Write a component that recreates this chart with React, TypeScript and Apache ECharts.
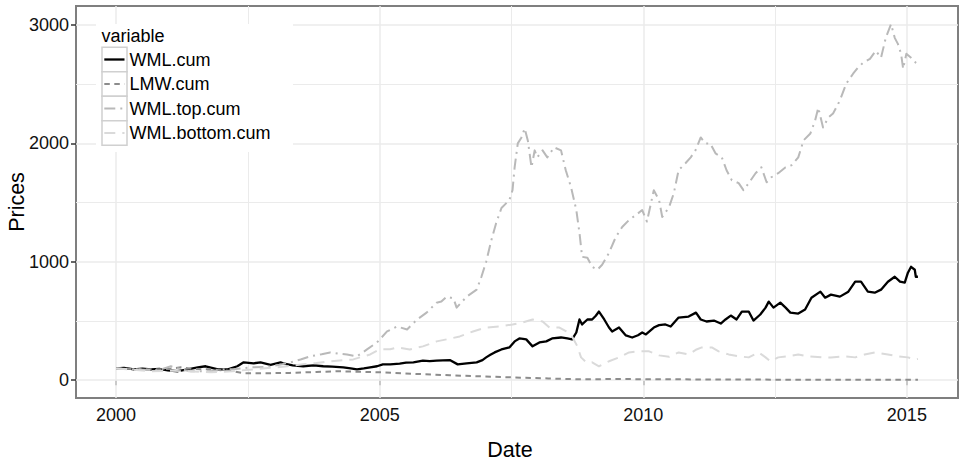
import React, { useEffect, useRef } from "react";
import * as echarts from "echarts";

const FONT = "'Liberation Sans', Arial, Helvetica, sans-serif";

// x ticks / y ticks
const xTickYears = [2000, 2005, 2010, 2015];
const xMinorYears = [2002.5, 2007.5, 2012.5];
const yTickValues = [0, 1000, 2000, 3000];
const yMinorValues = [500, 1500, 2500];

const seriesNames = ["WML.cum", "LMW.cum", "WML.top.cum", "WML.bottom.cum"];

// [decimal year, price]
const wmlCum: [number, number][] = [
  [2000.0, 100], [2000.15, 104], [2000.34, 92], [2000.5, 98], [2000.66, 92], [2000.82, 95], [2000.98, 84],
  [2001.17, 76], [2001.36, 92], [2001.55, 109], [2001.7, 118], [2001.93, 92], [2002.12, 92], [2002.3, 118],
  [2002.42, 151], [2002.61, 143], [2002.74, 151], [2002.93, 130], [2003.12, 151], [2003.17, 143],
  [2003.35, 125], [2003.55, 118], [2003.75, 125], [2003.93, 118], [2004.1, 115], [2004.31, 109],
  [2004.45, 100], [2004.57, 92], [2004.7, 100], [2004.82, 109], [2004.95, 118], [2005.06, 134],
  [2005.2, 134], [2005.38, 140], [2005.5, 148], [2005.64, 151], [2005.82, 165], [2005.95, 162],
  [2006.08, 165], [2006.2, 168], [2006.33, 170], [2006.48, 134], [2006.65, 143], [2006.84, 151],
  [2006.95, 170], [2007.02, 193], [2007.1, 215], [2007.18, 235], [2007.31, 260], [2007.46, 277],
  [2007.56, 328], [2007.65, 353], [2007.72, 350], [2007.78, 345], [2007.9, 286], [2008.03, 319],
  [2008.16, 328], [2008.27, 353], [2008.44, 361], [2008.56, 353], [2008.65, 345], [2008.73, 403],
  [2008.79, 513], [2008.84, 471], [2008.94, 513], [2009.03, 513], [2009.1, 545], [2009.16, 580],
  [2009.26, 513], [2009.35, 445], [2009.41, 412], [2009.54, 445], [2009.67, 378], [2009.79, 361],
  [2009.9, 380], [2009.98, 403], [2010.05, 387], [2010.2, 445], [2010.3, 465], [2010.42, 471],
  [2010.52, 454], [2010.67, 529], [2010.86, 538], [2011.0, 571], [2011.09, 513], [2011.2, 496],
  [2011.34, 504], [2011.47, 479], [2011.56, 513], [2011.66, 546], [2011.77, 513], [2011.87, 580],
  [2012.0, 580], [2012.09, 504], [2012.22, 555], [2012.32, 613], [2012.38, 664], [2012.47, 613],
  [2012.6, 655], [2012.7, 613], [2012.79, 571], [2012.94, 563], [2013.07, 597], [2013.19, 697],
  [2013.36, 748], [2013.45, 697], [2013.56, 723], [2013.73, 706], [2013.89, 748], [2014.02, 832],
  [2014.13, 832], [2014.26, 748], [2014.39, 739], [2014.51, 765], [2014.64, 832], [2014.77, 874],
  [2014.87, 832], [2014.96, 824], [2015.02, 908], [2015.08, 958], [2015.15, 933], [2015.17, 874],
  [2015.21, 874],
];

const lmwCum: [number, number][] = [
  [2000.0, 100], [2000.34, 95], [2000.66, 92], [2001.0, 95], [2001.23, 109], [2001.45, 95],
  [2001.74, 92], [2002.0, 85], [2002.23, 76], [2002.42, 59], [2002.87, 59], [2003.3, 62],
  [2003.8, 70], [2004.19, 76], [2004.6, 72], [2005.0, 67], [2005.6, 55], [2006.33, 42],
  [2006.9, 33], [2007.52, 24], [2008.2, 15], [2008.79, 8], [2009.5, 10], [2010.5, 8],
  [2011.5, 6], [2012.5, 5], [2013.5, 5], [2014.5, 4], [2015.21, 4],
];

const wmlTopCum: [number, number][] = [
  [2000.0, 100], [2000.34, 92], [2000.8, 84], [2001.04, 118], [2001.23, 92], [2001.42, 76],
  [2001.8, 76], [2002.08, 95], [2002.23, 92], [2002.55, 109], [2002.87, 112], [2003.1, 130],
  [2003.31, 151], [2003.5, 175], [2003.68, 202], [2003.9, 220], [2004.06, 235], [2004.22, 225],
  [2004.38, 218], [2004.57, 202], [2004.76, 260], [2004.95, 319], [2005.14, 412], [2005.33, 454],
  [2005.52, 429], [2005.71, 513], [2005.89, 571], [2006.08, 655], [2006.17, 664], [2006.27, 706],
  [2006.4, 690], [2006.46, 613], [2006.65, 706], [2006.84, 765], [2006.93, 874], [2007.02, 1000],
  [2007.12, 1185], [2007.21, 1328], [2007.31, 1454], [2007.46, 1521], [2007.52, 1605], [2007.56, 1798],
  [2007.62, 2000], [2007.69, 2050], [2007.75, 2126], [2007.81, 2025], [2007.88, 1798], [2007.94, 1941],
  [2007.99, 1882], [2008.09, 1941], [2008.18, 1882], [2008.31, 1966], [2008.44, 1941], [2008.53, 1773],
  [2008.63, 1630], [2008.73, 1437], [2008.79, 1244], [2008.84, 1042], [2008.94, 1034], [2009.03, 958],
  [2009.13, 933], [2009.22, 975], [2009.35, 1076], [2009.48, 1210], [2009.6, 1294], [2009.73, 1353],
  [2009.86, 1395], [2009.98, 1437], [2010.07, 1340], [2010.2, 1605], [2010.3, 1521], [2010.36, 1378],
  [2010.49, 1462], [2010.58, 1580], [2010.67, 1773], [2010.8, 1832], [2010.9, 1882], [2010.99, 1941],
  [2011.09, 2050], [2011.18, 2000], [2011.27, 2000], [2011.37, 1916], [2011.49, 1882], [2011.58, 1773],
  [2011.68, 1689], [2011.81, 1664], [2011.9, 1605], [2012.0, 1664], [2012.13, 1748], [2012.24, 1798],
  [2012.34, 1672], [2012.43, 1714], [2012.56, 1748], [2012.7, 1798], [2012.81, 1815], [2012.94, 1882],
  [2013.04, 2025], [2013.17, 2084], [2013.26, 2193], [2013.32, 2302], [2013.41, 2134], [2013.51, 2218],
  [2013.6, 2252], [2013.7, 2336], [2013.75, 2386], [2013.85, 2504], [2013.98, 2588], [2014.07, 2639],
  [2014.17, 2681], [2014.3, 2714], [2014.41, 2782], [2014.51, 2723], [2014.6, 2891], [2014.7, 3008],
  [2014.77, 2891], [2014.83, 2840], [2014.89, 2756], [2014.93, 2630], [2014.99, 2756], [2015.08, 2723],
  [2015.17, 2681], [2015.21, 2670],
];

const wmlBottomCum: [number, number][] = [
  [2000.0, 100], [2000.3, 90], [2000.66, 76], [2001.0, 80], [2001.3, 76], [2001.8, 67],
  [2002.2, 76], [2002.61, 92], [2002.93, 105], [2003.25, 118], [2003.55, 134], [2003.8, 145],
  [2004.06, 160], [2004.5, 176], [2004.82, 218], [2005.0, 260], [2005.2, 262], [2005.33, 277],
  [2005.57, 260], [2005.82, 286], [2006.08, 328], [2006.27, 345], [2006.52, 370], [2006.77, 412],
  [2007.02, 445], [2007.27, 454], [2007.52, 471], [2007.71, 487], [2007.9, 513], [2008.09, 496],
  [2008.22, 445], [2008.41, 445], [2008.54, 412], [2008.65, 370], [2008.75, 286], [2008.82, 193],
  [2008.92, 151], [2009.03, 151], [2009.16, 118], [2009.35, 160], [2009.54, 193], [2009.73, 235],
  [2009.92, 244], [2010.11, 244], [2010.3, 210], [2010.49, 198], [2010.67, 235], [2010.86, 218],
  [2011.01, 260], [2011.11, 277], [2011.3, 277], [2011.43, 244], [2011.62, 218], [2011.81, 202],
  [2012.0, 193], [2012.19, 235], [2012.32, 193], [2012.41, 160], [2012.56, 193], [2012.75, 202],
  [2012.94, 218], [2013.13, 202], [2013.38, 193], [2013.56, 193], [2013.83, 202], [2014.02, 193],
  [2014.2, 218], [2014.39, 235], [2014.64, 218], [2014.83, 202], [2015.02, 193], [2015.17, 176],
  [2015.21, 180],
];

const seriesData = [wmlCum, lmwCum, wmlTopCum, wmlBottomCum];

const lineStyles = [
  { color: "#000000", width: 2.3, type: "solid" as any },
  { color: "#8c8c8c", width: 2, type: [5.5, 4.5] as any },
  { color: "#b9b9b9", width: 2, type: [11, 5, 2, 5] as any },
  { color: "#dadada", width: 2, type: [11, 7] as any },
];

export default function App() {
  const ref = useRef<HTMLDivElement>(null);

  useEffect(() => {
    if (!ref.current) return;
    document.body.style.margin = "0";
    const chart = echarts.init(ref.current, undefined, { renderer: "svg" });

    const gridLineData: any[] = [
      ...xTickYears.map((v) => ({ xAxis: v, lineStyle: { width: 1.5 } })),
      ...xMinorYears.map((v) => ({ xAxis: v, lineStyle: { width: 1 } })),
      ...yTickValues.map((v) => ({ yAxis: v, lineStyle: { width: 1.5 } })),
      ...yMinorValues.map((v) => ({ yAxis: v, lineStyle: { width: 1 } })),
    ];

    const Z = 100;
    const rowY = (i: number) => 59.5 + 24.5 * i;
    const legendChildren: any[] = [
      { type: "rect", z: Z, shape: { x: 96, y: 24, width: 197, height: 128 }, style: { fill: "#ffffff" } },
      {
        type: "text",
        z: Z + 1,
        x: 101.5,
        y: 36,
        style: { text: "variable", fontSize: 18, fontFamily: FONT, fill: "#000", verticalAlign: "middle" },
      },
    ];
    seriesNames.forEach((name, i) => {
      const ls = lineStyles[i];
      legendChildren.push({
        type: "rect",
        z: Z + 1,
        shape: { x: 102, y: rowY(i) - 12.25, width: 25, height: 24.5 },
        style: { fill: "#ffffff", stroke: "#d0d0d0", lineWidth: 1.5 },
      });
      legendChildren.push({
        type: "line",
        z: Z + 2,
        shape: { x1: 104.3, y1: rowY(i), x2: 124.5, y2: rowY(i) },
        style: {
          stroke: ls.color,
          lineWidth: ls.width,
          lineDash: Array.isArray(ls.type) ? ls.type : null,
          lineCap: "butt",
        },
      });
      legendChildren.push({
        type: "text",
        z: Z + 2,
        x: 129.5,
        y: rowY(i),
        style: { text: name, fontSize: 18, fontFamily: FONT, fill: "#000", verticalAlign: "middle" },
      });
    });

    const option: any = {
      animation: false,
      backgroundColor: "#ffffff",
      grid: {
        left: 76,
        right: 5,
        top: 6,
        bottom: 64,
        show: true,
        borderColor: "#7f7f7f",
        borderWidth: 2,
        backgroundColor: "transparent",
        containLabel: false,
        outerBoundsMode: "none",
      },
      xAxis: {
        type: "value",
        min: 1999.24,
        max: 2015.97,
        name: "Date",
        nameLocation: "middle",
        nameGap: 41,
        nameMoveOverlap: false,
        nameTextStyle: { fontSize: 21.5, color: "#000", fontFamily: FONT, padding: [0, 14, 0, 0] },
        axisLine: { show: false },
        axisTick: { show: true, length: 5, lineStyle: { color: "#333", width: 1.5 }, customValues: xTickYears },
        axisLabel: {
          customValues: xTickYears,
          fontSize: 18,
          color: "#111",
          fontFamily: FONT,
          margin: 8,
          formatter: (v: number) => String(Math.round(v)),
        },
        splitLine: { show: false },
      },
      yAxis: {
        type: "value",
        min: -150,
        max: 3160,
        name: "Prices",
        nameLocation: "middle",
        nameGap: 48,
        nameMoveOverlap: false,
        nameTextStyle: { fontSize: 21.5, color: "#000", fontFamily: FONT },
        axisLine: { show: false },
        axisTick: { show: true, length: 5, lineStyle: { color: "#333", width: 1.5 }, customValues: yTickValues },
        axisLabel: {
          customValues: yTickValues,
          fontSize: 18,
          color: "#111",
          fontFamily: FONT,
          margin: 7,
          formatter: (v: number) => String(Math.round(v)),
        },
        splitLine: { show: false },
      },
      series: [
        {
          type: "line",
          name: "grid",
          data: [],
          silent: true,
          z: 1,
          markLine: {
            silent: true,
            z: 1,
            symbol: ["none", "none"],
            label: { show: false },
            lineStyle: { color: "#ebebeb", type: "solid", width: 1.5 },
            emphasis: { disabled: true },
            data: gridLineData,
          },
        },
        ...seriesNames.map((name, i) => ({
          type: "line",
          name,
          data: seriesData[i],
          symbol: "none",
          showSymbol: false,
          z: 2 + i,
          lineStyle: { ...lineStyles[i], cap: "butt", join: "round" },
          emphasis: { disabled: true },
        })),
      ],
      graphic: legendChildren,
    };

    chart.setOption(option);
    return () => chart.dispose();
  }, []);

  return (
    <div
      ref={ref}
      style={{ position: "absolute", left: 0, top: 0, width: 963, height: 462 }}
    />
  );
}
